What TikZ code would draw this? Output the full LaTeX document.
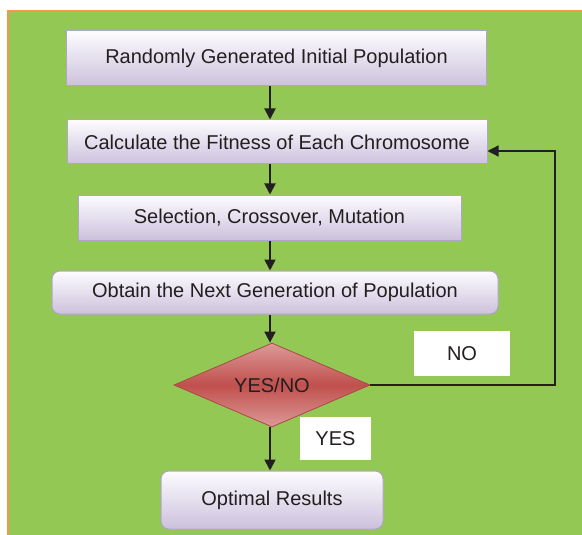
\documentclass[tikz,border=0pt]{standalone}
\usepackage{fontspec}
\setmainfont{Liberation Sans}
\usetikzlibrary{shapes.geometric,arrows.meta,calc}
\definecolor{bggreen}{HTML}{92C853}
\definecolor{bgorange}{HTML}{F79646}
\definecolor{boxtop}{HTML}{FDFCFF}
\definecolor{boxbot}{HTML}{CCC1DC}
\definecolor{boxedge}{HTML}{B5A3CF}
\definecolor{redlight}{HTML}{DC9A98}
\definecolor{redmid}{HTML}{C0504D}
\definecolor{txt}{HTML}{231F20}
\tikzset{
  boxnode/.style={draw=boxedge, line width=1pt, top color=boxtop, bottom color=boxbot,
    inner sep=0pt, text=txt, font=\fontsize{20}{24}\selectfont},
  roundbox/.style={boxnode, rounded corners=8pt},
  decision/.style={diamond, draw=redmid!90!black, line width=0.8pt, aspect=2.33,
    top color=redlight, bottom color=redlight, middle color=redmid, inner sep=0pt,
    text=txt, font=\fontsize{20}{24}\selectfont},
  labelbox/.style={fill=white, inner sep=0pt, text=txt, font=\fontsize{20}{24}\selectfont},
  arr/.style={line width=1.8pt, draw=txt, -{Triangle[length=11pt,width=11pt]}},
  fbline/.style={line width=1.3pt, draw=txt, -{Triangle[length=11pt,width=11pt]}}
}
\begin{document}
\begin{tikzpicture}[x=1pt,y=-1pt]
\useasboundingbox (0,0) rectangle (582,535);
\fill[white] (0,0) rectangle (582,535);
\fill[bggreen] (8,11) rectangle (582,535);
\draw[bgorange, line width=1.2pt] (8,535) -- (8,11) -- (582,11);

\node[boxnode, minimum width=420pt, minimum height=55pt] (b1) at (276.5,58.5) {Randomly Generated Initial Population};
\node[boxnode, minimum width=420pt, minimum height=44pt] (b2) at (277,142) {Calculate the Fitness of Each Chromosome};
\node[boxnode, minimum width=383pt, minimum height=45pt] (b3) at (269.5,217.5) {Selection, Crossover, Mutation};
\node[roundbox, minimum width=446pt, minimum height=43pt] (b4) at (275,292.5) {Obtain the Next Generation of Population};
\node[decision, minimum width=196pt, minimum height=84pt] (d) at (272,385) {YES/NO};
\node[roundbox, minimum width=222pt, minimum height=58pt] (b5) at (272,500) {Optimal Results};
\node[labelbox, minimum width=96pt, minimum height=45pt] (no) at (462,353.5) {NO};
\node[labelbox, minimum width=71pt, minimum height=43pt] (yes) at (335.5,438.5) {YES};

\coordinate (ax) at (270,0);
\coordinate (fb) at (555,0);
\coordinate (b2in) at ($(b2.east)+(0,9)$);

\draw[arr] (b1.south -| ax) -- (b2.north -| ax);
\draw[arr] (b2.south -| ax) -- (b3.north -| ax);
\draw[arr] (b3.south -| ax) -- (b4.north -| ax);
\draw[arr] (b4.south -| ax) -- (d.north -| ax);
\draw[arr] (d.south -| ax) -- (b5.north -| ax);
\draw[fbline] (d.east) -| (fb |- b2in) -- (b2in);
\end{tikzpicture}
\end{document}
